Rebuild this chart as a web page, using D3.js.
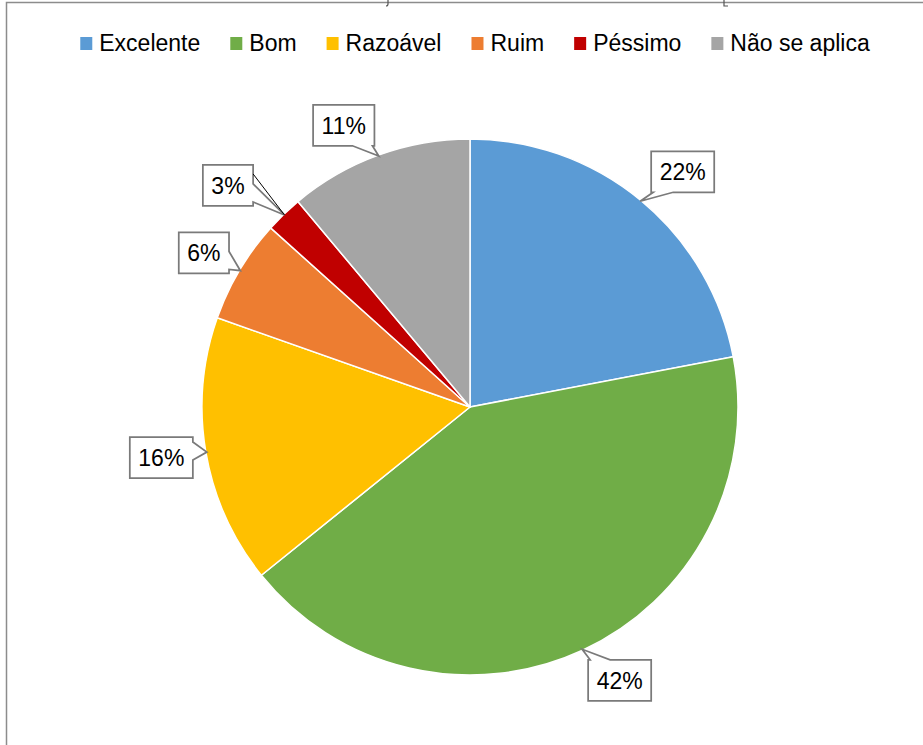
<!DOCTYPE html>
<html>
<head>
<meta charset="utf-8">
<script src="https://cdn.jsdelivr.net/npm/d3@7"></script>
<style>
  html, body { margin: 0; padding: 0; background: #fff; }
  svg { display: block; }
</style>
</head>
<body>
<svg id="chart" width="923" height="745"></svg>
<script>
// ---- data ----
const categories = ["Excelente", "Bom", "Razoável", "Ruim", "Péssimo", "Não se aplica"];
const values = [22.0, 42.2, 16.2, 6.25, 2.25, 11.1];
const labels = ["22%", "42%", "16%", "6%", "3%", "11%"];
const colors = ["#5B9BD5", "#70AD47", "#FFC000", "#ED7D31", "#C00000", "#A5A5A5"];

// ---- layout for data callouts (box centre offset from the pointer tip, side of wedge) ----
const calloutLayout = [
  { dx: 42.5, dy: -29.5, side: "bottom" },
  { dx: 37.5, dy: 31, side: "top" },
  { dx: -45.5, dy: 5.5, side: "right" },
  { dx: -36.5, dy: -17.8, side: "right" },
  { dx: -56.5, dy: -29.5, side: "right" },
  { dx: -35, dy: -30.8, side: "bottom" }
];

const svg = d3.select("#chart");
const W = 923, H = 745;
const font = "'Liberation Sans', Arial, sans-serif";

// chart frame (partially cropped)
svg.append("path")
  .attr("d", `M6.5,${H} L6.5,2.5 L${W},2.5`)
  .attr("fill", "none").attr("stroke", "#8c8c8c").attr("stroke-width", 1.5);
// tiny remnants of the cropped title
svg.append("path").attr("d", "M388,0 L388,4 Q388,6 386,6")
  .attr("fill", "none").attr("stroke", "#555").attr("stroke-width", 1.2);
svg.append("path").attr("d", "M724,0 L724,6 L728,6")
  .attr("fill", "none").attr("stroke", "#555").attr("stroke-width", 1.2);

// ---- legend ----
const legendFont = 23;
const legend = svg.append("g");
const items = legend.selectAll("g").data(categories).join("g");
items.append("rect").attr("width", 12).attr("height", 13).attr("y", 37)
  .attr("fill", (d, i) => colors[i]);
items.append("text").text(d => d)
  .attr("x", 19).attr("y", 51)
  .attr("font-family", font).attr("font-size", legendFont).attr("fill", "#000");
let widths = [];
items.each(function () { widths.push(19 + d3.select(this).select("text").node().getComputedTextLength()); });
const gap = 30;
const total = d3.sum(widths) + gap * (widths.length - 1);
let x0 = 475 - total / 2;
items.attr("transform", (d, i) => {
  const x = x0; x0 += widths[i] + gap;
  return `translate(${x},0)`;
});

// ---- pie ----
const cx = 470, cy = 407, R = 268;
const pie = d3.pie().sort(null).value(d => d);
const arcs = pie(values);
const arc = d3.arc().innerRadius(0).outerRadius(R);
const g = svg.append("g").attr("transform", `translate(${cx},${cy})`);
g.selectAll("path").data(arcs).join("path")
  .attr("d", arc)
  .attr("fill", (d, i) => colors[i])
  .attr("stroke", "#fff").attr("stroke-width", 1.5).attr("stroke-linejoin", "round");

// ---- callouts ----
const tipR = R - 1;
const boxH = 41;
const cg = svg.append("g");
arcs.forEach((a, i) => {
  const mid = (a.startAngle + a.endAngle) / 2;
  const tx = cx + tipR * Math.sin(mid);
  const ty = cy - tipR * Math.cos(mid);
  const L = calloutLayout[i];
  const bx = tx + L.dx, by = ty + L.dy;

  const grp = cg.append("g");
  const path = grp.append("path");
  const t = grp.append("text").text(labels[i])
    .attr("x", bx).attr("y", by + 8.5)
    .attr("text-anchor", "middle")
    .attr("font-family", font).attr("font-size", 23).attr("fill", "#000");
  const tw = t.node().getComputedTextLength();
  const bw = tw + 17;
  const x1 = bx - bw / 2, x2 = bx + bw / 2, y1 = by - boxH / 2, y2 = by + boxH / 2;
  const clamp = (v, lo, hi) => Math.max(lo, Math.min(hi, v));
  let d;
  if (L.side === "bottom") {
    const a0 = clamp(tx - 10, x1 + 2, x2 - 22), a1 = a0 + 20;
    d = `M${x1},${y1} L${x2},${y1} L${x2},${y2} L${a1},${y2} L${tx},${ty} L${a0},${y2} L${x1},${y2} Z`;
  } else if (L.side === "top") {
    const a0 = clamp(tx - 10, x1 + 2, x2 - 22), a1 = a0 + 20;
    d = `M${x1},${y1} L${a0},${y1} L${tx},${ty} L${a1},${y1} L${x2},${y1} L${x2},${y2} L${x1},${y2} Z`;
  } else if (L.side === "right") {
    const a0 = clamp(ty - 10, y1 + 4, y2 - 22), a1 = a0 + 18;
    d = `M${x1},${y1} L${x2},${y1} L${x2},${a0} L${tx},${ty} L${x2},${a1} L${x2},${y2} L${x1},${y2} Z`;
  } else {
    const a0 = clamp(ty - 10, y1 + 4, y2 - 22), a1 = a0 + 18;
    d = `M${x1},${y1} L${x2},${y1} L${x2},${y2} L${x1},${y2} L${x1},${a1} L${tx},${ty} L${x1},${a0} Z`;
  }
  path.attr("d", d).attr("fill", "#fff")
    .attr("stroke", "#7a7a7a").attr("stroke-width", 1.75).attr("stroke-linejoin", "miter");
  // thin dark leader line for the small slice label
  if (i === 4) {
    grp.append("line").attr("x1", x2).attr("y1", y1 + 9).attr("x2", tx).attr("y2", ty)
      .attr("stroke", "#000").attr("stroke-width", 1);
  }
});
</script>
</body>
</html>
